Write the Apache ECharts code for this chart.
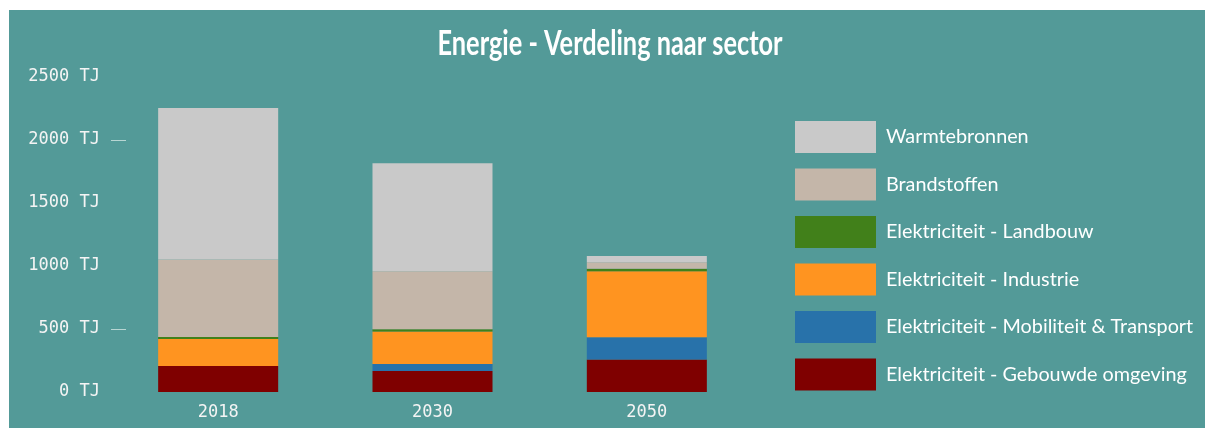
<!DOCTYPE html>
<html>
<head>
<meta charset="utf-8">
<script src="https://cdn.jsdelivr.net/npm/echarts@6/dist/echarts.min.js"></script>
<style>
  html, body { margin: 0; padding: 0; background: #fff; }
  #chart { position: absolute; left: 9px; top: 10px; width: 1196px; height: 418px; }
</style>
</head>
<body>
<div id="chart"></div>
<script>
var jaren = ['2018', '2030', '2050'];
var gebouwd = [207, 167, 257];
var mobiliteit = [0, 56, 178];
var industrie = [213, 257, 523];
var landbouw = [16, 19, 21];
var brandstoffen = [615, 459, 51];
var warmte = [1202, 857, 50];

var myChart = echarts.init(document.getElementById('chart'));
var mono = "'DejaVu Sans Mono', monospace";
var tekst = "'Lato', 'Noto Sans', sans-serif";

function reeks(naam, data, kleur) {
    return {
        name: naam,
        type: 'bar',
        stack: 'totaal',
        barWidth: '56%',
        data: data,
        itemStyle: { color: kleur }
    };
}

var option = {
    backgroundColor: '#539a98',
    animation: false,
    // titel als graphic, zodat hij smaller geschaald kan worden
    graphic: [{
        type: 'text',
        x: 601,
        y: 34,
        scaleX: 0.745,
        style: {
            text: 'Energie - Verdeling naar sector',
            fill: '#fff',
            font: "bold 34px 'Lato', sans-serif",
            textAlign: 'center',
            textVerticalAlign: 'middle'
        }
    }],
    legend: {
        orient: 'vertical',
        left: 786,
        top: 111,
        padding: 0,
        itemWidth: 81,
        itemHeight: 32,
        itemGap: 15.5,
        icon: 'rect',
        data: ['Warmtebronnen', 'Brandstoffen', 'Elektriciteit - Landbouw', 'Elektriciteit - Industrie',
            'Elektriciteit - Mobiliteit & Transport', 'Elektriciteit - Gebouwde omgeving'],
        textStyle: {
            color: '#fff',
            fontSize: 19.8,
            fontFamily: tekst,
            padding: [8, 0, 0, 5]
        }
    },
    grid: {
        left: 102,
        right: 451,
        top: 67,
        bottom: 36
    },
    xAxis: {
        type: 'category',
        data: jaren,
        axisLine: { show: false },
        axisTick: { show: false },
        axisLabel: {
            color: '#f4f4f4',
            fontSize: 17,
            fontFamily: mono,
            margin: 12
        }
    },
    yAxis: {
        type: 'value',
        min: 0,
        max: 2500,
        interval: 500,
        splitLine: { show: false },
        axisLine: { show: false },
        axisTick: {
            show: true,
            inside: true,
            length: 15,
            customValues: [500, 2000],
            lineStyle: { color: '#b8d6d3', width: 1 }
        },
        axisLabel: {
            color: '#f4f4f4',
            fontSize: 17,
            fontFamily: mono,
            margin: 11,
            formatter: function (v) { return v + ' TJ'; }
        }
    },
    series: [
        reeks('Elektriciteit - Gebouwde omgeving', gebouwd, '#7f0000'),
        reeks('Elektriciteit - Mobiliteit & Transport', mobiliteit, '#2872aa'),
        reeks('Elektriciteit - Industrie', industrie, '#ff9420'),
        reeks('Elektriciteit - Landbouw', landbouw, '#41801a'),
        reeks('Brandstoffen', brandstoffen, '#c4b6a9'),
        reeks('Warmtebronnen', warmte, '#c9c9c9')
    ]
};
myChart.setOption(option);
</script>
</body>
</html>
